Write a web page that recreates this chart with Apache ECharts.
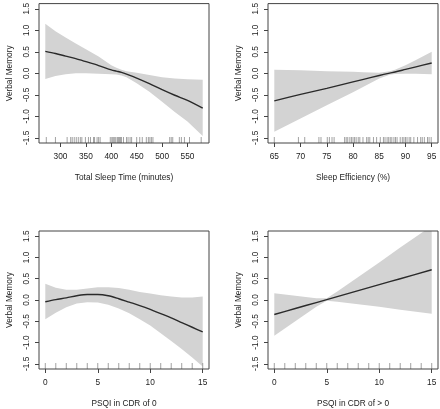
<!DOCTYPE html>
<html>
<head>
<meta charset="utf-8">
<script src="https://cdn.jsdelivr.net/npm/echarts@6/dist/echarts.min.js"></script>
<style>html,body{margin:0;padding:0;background:#fff}#c{width:440px;height:409px}</style>
</head>
<body>
<div id="c"></div>
<script>
// ---------- Data ----------
const yTicks = [-1.5, -1.0, -0.5, 0.0, 0.5, 1.0, 1.5];
const yTickLabels = ['-1.5', '-1.0', '-0.5', '0.0', '0.5', '1.0', '1.5'];
const yTitle = 'Verbal Memory';

// Panel 1: Total Sleep Time
const tstTitle = 'Total Sleep Time (minutes)';
const tstTicks = [300, 350, 400, 450, 500, 550];
const tstX     = [270, 290, 310, 330, 350, 375, 400, 410, 420, 430, 450, 475, 500, 525, 550, 580];
const tstFit   = [0.51, 0.46, 0.40, 0.34, 0.27, 0.18, 0.08, 0.05, 0.02, -0.02, -0.11, -0.24, -0.38, -0.51, -0.63, -0.81];
const tstUpper = [1.15, 0.98, 0.83, 0.69, 0.56, 0.39, 0.19, 0.13, 0.08, 0.05, 0.01, -0.04, -0.09, -0.12, -0.14, -0.15];
const tstLower = [-0.13, -0.06, -0.02, 0.0, 0.0, -0.01, -0.02, -0.03, -0.05, -0.09, -0.23, -0.43, -0.66, -0.90, -1.12, -1.46];
const tstRug = [272, 290, 313, 320, 323, 327, 331, 335, 339, 342, 349, 355, 359, 365, 367, 372, 375, 378,
  398, 401, 403, 405, 407, 409, 412, 414, 416, 418, 420, 424, 430, 433, 437, 440, 450, 456, 461,
  469, 473, 476, 479, 482, 515, 518, 521, 534, 538, 544, 554, 577];

// Panel 2: Sleep Efficiency
const seTitle = 'Sleep Efficiency (%)';
const seTicks = [65, 70, 75, 80, 85, 90, 95];
const seX     = [65, 70, 75, 80, 82, 85, 87, 88, 90, 92, 95];
const seFit   = [-0.64, -0.49, -0.35, -0.20, -0.14, -0.05, 0.005, 0.03, 0.09, 0.15, 0.24];
const seUpper = [0.08, 0.07, 0.05, 0.035, 0.027, 0.015, 0.045, 0.084, 0.19, 0.31, 0.50];
const seLower = [-1.36, -1.05, -0.74, -0.44, -0.31, -0.12, -0.035, -0.016, -0.01, -0.01, -0.02];
const seRug = [65, 69.6, 70.8, 73.5, 73.9, 75.1, 75.5, 76, 76.4, 78.4, 78.7, 79, 79.4, 79.7, 80, 80.3,
  80.6, 81, 81.3, 81.9, 82.6, 82.9, 83.2, 83.9, 84.5, 85.2, 85.8, 86.1, 86.5, 86.8, 87.1, 87.4, 87.8,
  88.1, 88.4, 89, 89.4, 89.7, 90, 90.3, 90.7, 91, 91.6, 92.3, 92.9, 93.2, 93.6, 94.2, 94.5, 94.9];

// Panel 3: PSQI in CDR of 0
const p0Title = 'PSQI in CDR of 0';
const psqiTicks = [0, 5, 10, 15];
const p0X     = [0, 1, 2, 3, 4, 5, 6, 7, 8, 9, 10, 11, 12, 13, 14, 15];
const p0Fit   = [-0.04, 0.01, 0.05, 0.10, 0.13, 0.13, 0.10, 0.03, -0.05, -0.13, -0.22, -0.32, -0.42, -0.53, -0.64, -0.75];
const p0Upper = [0.38, 0.29, 0.24, 0.24, 0.27, 0.30, 0.30, 0.28, 0.24, 0.19, 0.15, 0.11, 0.08, 0.06, 0.06, 0.08];
const p0Lower = [-0.45, -0.30, -0.17, -0.08, -0.05, -0.06, -0.11, -0.20, -0.31, -0.45, -0.60, -0.78, -0.96, -1.15, -1.35, -1.56];
const p0Rug = [0, 1, 2, 3, 4, 5, 6, 7, 8, 9, 10, 11, 12, 13, 14, 15];

// Panel 4: PSQI in CDR of > 0
const p1Title = 'PSQI in CDR of > 0';
const p1X     = [0, 2, 4, 5, 6, 8, 10, 12, 15];
const p1Fit   = [-0.34, -0.20, -0.06, 0.01, 0.08, 0.22, 0.36, 0.50, 0.71];
const p1Upper = [0.16, 0.10, 0.04, 0.04, 0.20, 0.54, 0.88, 1.23, 1.74];
const p1Lower = [-0.84, -0.50, -0.16, -0.02, -0.04, -0.10, -0.16, -0.23, -0.32];
const p1Rug = [0, 1, 2, 3, 4, 5, 6, 7, 8, 9, 10, 11, 12, 13, 14, 15];

// ---------- Layout / style ----------
const FONT = "'Liberation Sans', Arial, sans-serif";
const TXT = '#222';
const FS = 8.3;
const Y_MIN = -1.62, Y_MAX = 1.62;

function pad(lo, hi) { const d = (hi - lo) * 0.04; return [lo - d, hi + d]; }

const panels = [
  {title: tstTitle, ticks: tstTicks, range: pad(270, 580), x: tstX, fit: tstFit, up: tstUpper, lo: tstLower, rug: tstRug, left: 39, top: 2},
  {title: seTitle,  ticks: seTicks,  range: pad(65, 95),   x: seX,  fit: seFit,  up: seUpper,  lo: seLower,  rug: seRug,  left: 268, top: 2},
  {title: p0Title,  ticks: psqiTicks, range: pad(0, 15),   x: p0X,  fit: p0Fit,  up: p0Upper,  lo: p0Lower,  rug: p0Rug,  left: 39, top: 231},
  {title: p1Title,  ticks: psqiTicks, range: pad(0, 15),   x: p1X,  fit: p1Fit,  up: p1Upper,  lo: p1Lower,  rug: p1Rug,  left: 268, top: 231}
];

const grids = [], xAxes = [], yAxes = [], series = [];
panels.forEach((p, i) => {
  grids.push({left: p.left, top: p.top, width: 170, height: 141, show: true, z: 10,
    backgroundColor: 'transparent', borderColor: '#444', borderWidth: 1});
  xAxes.push({type: 'value', gridIndex: i, position: 'bottom', min: p.range[0], max: p.range[1],
    name: p.title, nameLocation: 'middle', nameGap: 31,
    nameTextStyle: {fontFamily: FONT, fontSize: FS, color: TXT},
    axisLine: {show: false, onZero: false}, splitLine: {show: false},
    axisTick: {show: true, inside: false, length: 4, customValues: p.ticks, lineStyle: {color: '#444', width: 1}},
    axisLabel: {show: true, margin: 10, fontFamily: FONT, fontSize: FS, color: TXT, customValues: p.ticks,
      formatter: v => String(v)}});
  yAxes.push({type: 'value', gridIndex: i, position: 'left', min: Y_MIN, max: Y_MAX,
    name: yTitle, nameLocation: 'middle', nameGap: 25,
    nameTextStyle: {fontFamily: FONT, fontSize: FS, color: TXT},
    axisLine: {show: false, onZero: false}, splitLine: {show: false},
    axisTick: {show: true, inside: false, length: 4, customValues: yTicks, lineStyle: {color: '#444', width: 1}},
    axisLabel: {show: true, rotate: 90, margin: 8, fontFamily: FONT, fontSize: FS, color: TXT, customValues: yTicks,
      formatter: v => yTickLabels[yTicks.findIndex(t => Math.abs(t - v) < 1e-6)] ?? v.toFixed(1)}});

  // confidence band
  series.push({type: 'custom', xAxisIndex: i, yAxisIndex: i, clip: true, z: 1, silent: true,
    data: [[p.x[0], p.up[0]]],
    renderItem: (params, api) => {
      const pts = [];
      for (let k = 0; k < p.x.length; k++) pts.push(api.coord([p.x[k], p.up[k]]));
      for (let k = p.x.length - 1; k >= 0; k--) pts.push(api.coord([p.x[k], p.lo[k]]));
      return {type: 'polygon', shape: {points: pts}, style: {fill: '#d3d3d3', stroke: null}};
    }});
  // fit line
  series.push({type: 'line', xAxisIndex: i, yAxisIndex: i, z: 3, silent: true, showSymbol: false, smooth: 0.3,
    data: p.x.map((v, k) => [v, p.fit[k]]), lineStyle: {color: '#2a2a2a', width: 1.4}});
  // rug
  series.push({type: 'custom', xAxisIndex: i, yAxisIndex: i, z: 4, silent: true,
    data: p.rug.map(v => [v, Y_MIN]),
    renderItem: (params, api) => {
      const c = api.coord([api.value(0), api.value(1)]);
      return {type: 'line', shape: {x1: c[0], y1: c[1], x2: c[0], y2: c[1] - 6},
        style: {stroke: '#8a8a8a', lineWidth: 0.8}};
    }});
});

const chart = echarts.init(document.getElementById('c'), null, {renderer: 'canvas'});
chart.setOption({animation: false, backgroundColor: '#fff', grid: grids, xAxis: xAxes, yAxis: yAxes, series: series});
</script>
</body>
</html>
